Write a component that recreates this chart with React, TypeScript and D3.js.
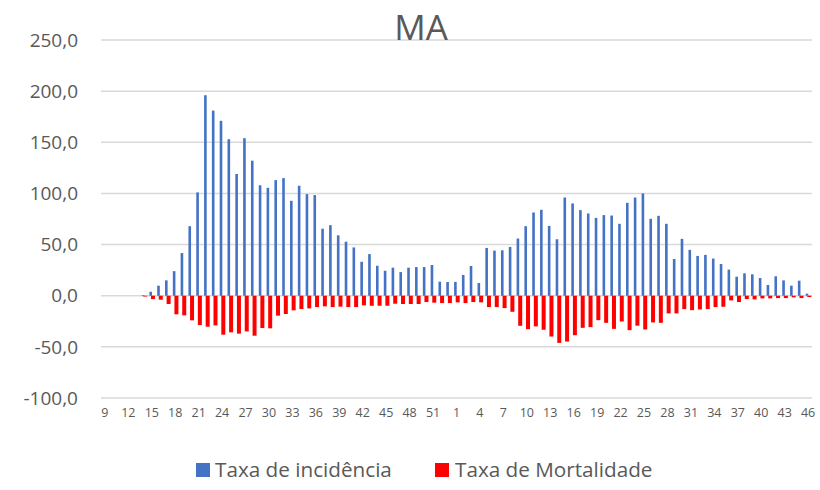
import React from "react";
import * as d3 from "d3";

const weekLabels: string[] = [
  "9","10","11","12","13","14","15","16","17","18","19","20","21","22","23","24","25","26","27","28",
  "29","30","31","32","33","34","35","36","37","38","39","40","41","42","43","44","45","46","47","48",
  "49","50","51","52","53",
  "1","2","3","4","5","6","7","8","9","10","11","12","13","14","15","16","17","18","19","20",
  "21","22","23","24","25","26","27","28","29","30","31","32","33","34","35","36","37","38","39","40",
  "41","42","43","44","45","46",
];

const incidencia: number[] = [
  0, 0, 0, 0, 0, 0.6, 3.9, 9.8, 15, 24, 41.7, 68, 101, 196, 181, 171, 153, 119, 154, 132,
  108, 105.5, 113, 115, 92.8, 107.5, 99.3, 98.4, 65.5, 69, 59, 52.8, 47.2, 33.2, 40.7, 29.3, 24.4, 27.4, 23.1, 27.4,
  28, 28, 30, 13.7, 13.4,
  13.5, 20.3, 29.1, 12.4, 46.7, 44.1, 44.4, 47.7, 55.9, 68, 81.4, 84, 68.3, 55.2, 96, 90.2, 83.7, 80.4, 76.1, 78.8,
  78.4, 70.3, 90.8, 96, 100, 75.2, 78.1, 70.3, 35.9, 55.6, 44.8, 38.9, 39.9, 36.3, 31, 25.5, 18.6, 21.9, 20.9, 17.3,
  10.5, 19, 15, 9.8, 14.7, 2,
];

const mortalidade: number[] = [
  0, 0, 0, 0, 0, -0.8, -3.3, -3.9, -8.1, -18.2, -19.2, -24.1, -28.7, -30.3, -29, -38.1, -35.8, -37.1, -34.9, -39.1,
  -31.6, -31.9, -19.5, -17.9, -14.3, -13, -12.4, -11.1, -10.4, -11.1, -10.7, -11.1, -11.1, -9.4, -9.8, -9.8, -9.8, -7.8, -8.1, -8.1,
  -8.1, -6.2, -6.8, -7.2, -7.2,
  -6.5, -7.2, -6.2, -6.5, -11.1, -11.1, -12.1, -15.7, -29.4, -32.7, -30, -33.3, -39.9, -46.1, -44.8, -38.6, -31.4, -30.7, -23.9, -26.5,
  -32.4, -25.2, -33.7, -29.3, -33, -26.1, -26.5, -17.3, -17.3, -13.1, -14.1, -13.4, -13.1, -11.1, -10.8, -4.6, -6.2, -3.3, -3.6, -2.6,
  -2.6, -2.3, -2.3, -1.6, -2.3, -1.3,
];

const yTicks: number[] = [-100, -50, 0, 50, 100, 150, 200, 250];
const title = "MA";
const seriesNames: string[] = ["Taxa de incidência", "Taxa de Mortalidade"];
const seriesColors: string[] = ["#4472C4", "#FF0000"];

const W = 820;
const H = 490;
const FONT = "'Open Sans', 'Noto Sans', sans-serif";
const TEXT = "#595959";

export default function App() {
  const idx = d3.range(weekLabels.length);
  const x = d3.scaleBand<number>().domain(idx).range([101, 812]).padding(0);
  const y = d3.scaleLinear().domain([-100, 250]).range([398, 40]);
  const bw = x.bandwidth();
  const fmt = (v: number) => d3.format(".1f")(v).replace(".", ",").replace("−", "-");

  return (
    <svg width={W} height={H} style={{ position: "absolute", left: 0, top: 0, background: "#fff" }}>
      <rect x={0} y={0} width={W} height={H} fill="#fff" />
      {yTicks.map((t) => (
        <g key={t}>
          <line x1={101} x2={812} y1={y(t)} y2={y(t)} stroke="#D9D9D9" strokeWidth={1.5} />
          <text x={78} y={y(t)} dy="0.35em" textAnchor="end" fontFamily={FONT} fontSize={19} fill={TEXT}>
            {fmt(t)}
          </text>
        </g>
      ))}
      {idx.map((i) => {
        const c = (x(i) as number) + bw / 2;
        const v = incidencia[i];
        const m = mortalidade[i];
        return (
          <g key={i}>
            {v > 0 && (
              <rect x={c - 2.4} width={2.6} y={y(v)} height={y(0) - y(v)} fill={seriesColors[0]} />
            )}
            {m < 0 && (
              <rect x={c - 0.8} width={4} y={y(0)} height={y(m) - y(0)} fill={seriesColors[1]} />
            )}
          </g>
        );
      })}
      {idx
        .filter((i) => i % 3 === 0)
        .map((i) => (
          <text
            key={i}
            x={(x(i) as number) + bw / 2}
            y={413}
            dy="0.35em"
            textAnchor="middle"
            fontFamily={FONT}
            fontSize={12.5}
            fill={TEXT}
          >
            {weekLabels[i]}
          </text>
        ))}
      <text x={421} y={40} textAnchor="middle" fontFamily={FONT} fontSize={35} fill={TEXT}>
        {title}
      </text>
      <rect x={196} y={463} width={14} height={14} fill={seriesColors[0]} />
      <text x={215} y={477} fontFamily={FONT} fontSize={20.7} fill={TEXT}>
        {seriesNames[0]}
      </text>
      <rect x={435} y={463} width={14} height={14} fill={seriesColors[1]} />
      <text x={455} y={477} fontFamily={FONT} fontSize={20.7} fill={TEXT}>
        {seriesNames[1]}
      </text>
    </svg>
  );
}
